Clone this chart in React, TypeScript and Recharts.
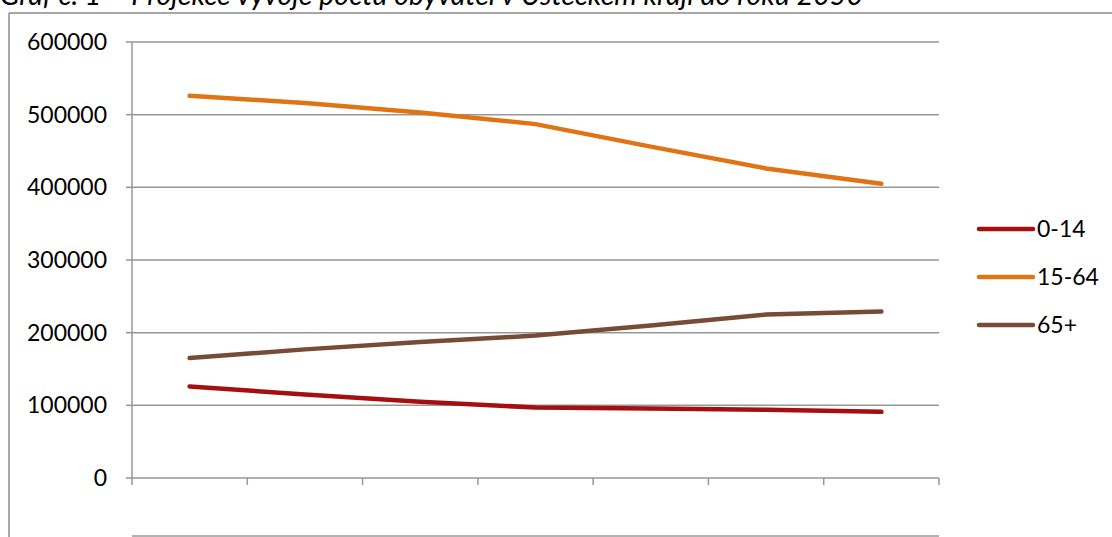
import { LineChart, Line, XAxis, YAxis, CartesianGrid } from 'recharts'

const years = ['2020', '2025', '2030', '2035', '2040', '2045', '2050']
const kids = [126000, 115000, 105000, 97000, 95500, 94000, 91000]
const working = [526000, 516000, 503000, 487000, 456000, 426000, 405000]
const seniors = [165000, 177000, 187000, 196000, 210000, 225000, 229000]
const yTicks = [0, 100000, 200000, 300000, 400000, 500000, 600000]

const seriesNames = ['0-14', '15-64', '65+']
const seriesKeys = ['kids', 'working', 'seniors']
const seriesColors = ['#a50f0f', '#e07314', '#774b35']

const title = 'Graf č. 1 – Projekce vývoje počtu obyvatel v Ústeckém kraji do roku 2050'

const chartData = years.map((year, i) => ({
    year,
    kids: kids[i],
    working: working[i],
    seniors: seniors[i],
}))

// boundaries between the year bands, for the small tick marks under the axis
const bandTicks = years.map((_, i) => i).concat(years.length)

const font = 'Lato, "Open Sans", sans-serif'
const gray = '#979797'

export default function App() {
    return (
        <div style={{ position: 'fixed', left: 0, top: 0, width: 1112, height: 537, overflow: 'hidden', background: '#fff', fontFamily: font }}>
            <LineChart
                width={1112}
                height={537}
                data={chartData}
                margin={{ top: 42, right: 173, left: 0, bottom: 0 }}
                style={{ position: 'absolute', left: 0, top: 0 }}
            >
                <CartesianGrid vertical={false} stroke={gray} strokeWidth={1.5} />
                {/* the year axis gets almost no height so the edge marks sit right under the plot */}
                <XAxis
                    dataKey="year"
                    xAxisId="years"
                    padding={{ left: 57.6, right: 57.6 }}
                    tickLine={false}
                    axisLine={{ stroke: gray, strokeWidth: 1.5 }}
                    tickSize={6}
                    tickMargin={19}
                    height={1}
                    tick={{ fill: '#000', fontSize: 22, fontFamily: font }}
                />
                <XAxis
                    xAxisId="edge"
                    type="number"
                    dataKey="band"
                    domain={[0, years.length]}
                    allowDataOverflow
                    ticks={bandTicks}
                    interval={0}
                    tick={() => <g />}
                    axisLine={false}
                    tickLine={{ stroke: gray, strokeWidth: 1.5 }}
                    tickSize={7}
                    height={58}
                />
                <YAxis
                    domain={[0, 600000]}
                    ticks={yTicks}
                    width={132}
                    tickSize={6}
                    tickMargin={19}
                    axisLine={{ stroke: gray, strokeWidth: 1.5 }}
                    tickLine={{ stroke: gray, strokeWidth: 1.5 }}
                    tick={{ fill: '#000', fontSize: 23, fontFamily: font }}
                    interval={0}
                />
                {seriesKeys.map((key, i) => (
                    <Line
                        key={key}
                        xAxisId="years"
                        type="linear"
                        dataKey={key}
                        name={seriesNames[i]}
                        stroke={seriesColors[i]}
                        strokeWidth={4.5}
                        strokeLinecap="round"
                        dot={false}
                        isAnimationActive={false}
                    />
                ))}
            </LineChart>
            <svg width={1112} height={537} style={{ position: 'absolute', left: 0, top: 0, pointerEvents: 'none' }}>
                <line x1={9} y1={13} x2={1112} y2={13} stroke="#8a8a8a" strokeWidth={1.5} />
                <line x1={9} y1={13} x2={9} y2={537} stroke="#8a8a8a" strokeWidth={1.5} />
                <text x={0} y={5} fontSize={28} fontStyle="italic" fontFamily={font} fill="#000" textLength={863} lengthAdjust="spacingAndGlyphs">{title}</text>
                {seriesNames.map((name, i) => (
                    <g key={name} transform={`translate(979, ${229 + i * 48})`}>
                        <line x1={0} y1={0} x2={54} y2={0} stroke={seriesColors[i]} strokeWidth={4.5} strokeLinecap="round" />
                        <text x={58} y={0} dy="0.355em" fontSize={23} fontFamily={font} fill="#000">{name}</text>
                    </g>
                ))}
            </svg>
        </div>
    )
}
